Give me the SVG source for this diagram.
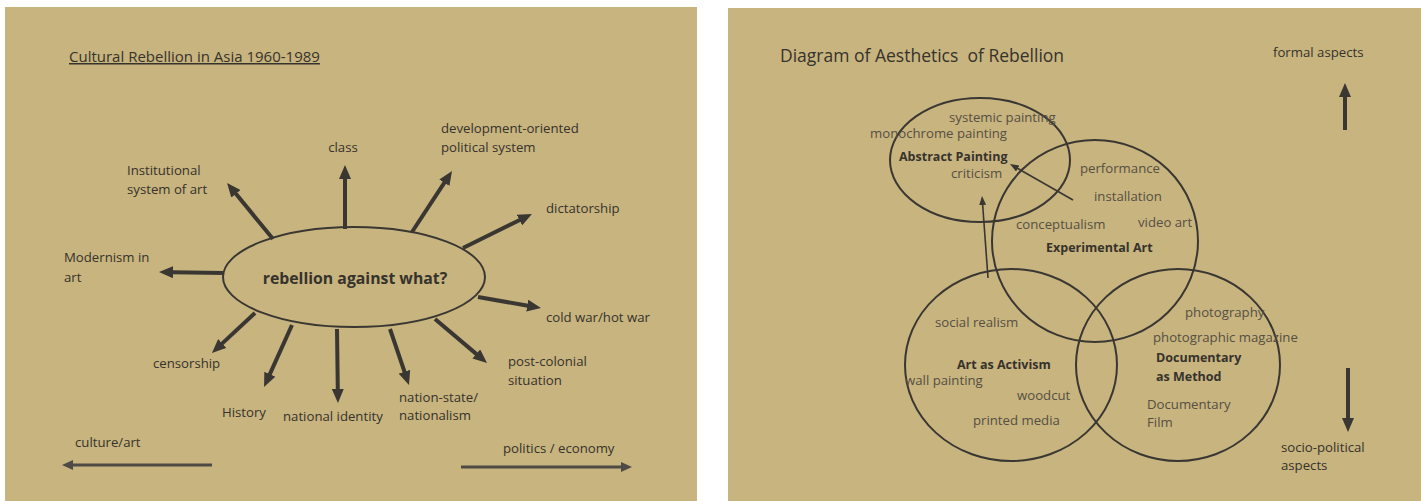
<svg xmlns="http://www.w3.org/2000/svg" width="1421" height="501" viewBox="0 0 1421 501">
<style>
text{font-family:"Open Sans","Liberation Sans",sans-serif;fill:#36322c;font-size:13.2px}
.t{font-size:15px;text-decoration:underline}
.t2{font-size:17.5px;white-space:pre}
.b{font-weight:bold;font-size:12.5px}
.lt{fill:#564f43}
.thick{stroke:#3a3733;stroke-width:4;fill:none}
.mid{stroke:#4e4b46;stroke-width:3;fill:none}
.thin{stroke:#3a3733;stroke-width:1.6;fill:none}
.sh{stroke:#3a3733;stroke-width:2;fill:none}
</style>
<defs>
<marker id="ah" viewBox="0 0 14 12" markerWidth="14" markerHeight="12" refX="1" refY="6" orient="auto" markerUnits="userSpaceOnUse"><path d="M0,0 L14,6 L0,12 z" fill="#3a3733"/></marker>
<marker id="ah2" viewBox="0 0 11 10" markerWidth="11" markerHeight="10" refX="1" refY="5" orient="auto" markerUnits="userSpaceOnUse"><path d="M0,0 L11,5 L0,10 z" fill="#4e4b46"/></marker>
<marker id="ah3" viewBox="0 0 9 7" markerWidth="9" markerHeight="7" refX="1" refY="3.5" orient="auto" markerUnits="userSpaceOnUse"><path d="M0,0 L9,3.5 L0,7 z" fill="#3a3733"/></marker>
</defs>
<rect x="0" y="0" width="1421" height="501" fill="#ffffff"/>
<rect x="5" y="7" width="692" height="494" fill="#c8b47e"/>
<rect x="728" y="8" width="693" height="493" fill="#c8b47e"/>

<g id="left-title"><text class="t" x="69" y="62">Cultural Rebellion in Asia 1960-1989</text></g>
<g id="center"><ellipse cx="354" cy="277" rx="131" ry="50" class="sh"/><text class="b" x="355" y="284" text-anchor="middle" style="font-size:15.8px">rebellion against what?</text></g>

<g id="connectors-left">
<line class="thick" x1="273" y1="239" x2="235.3" y2="193" marker-end="url(#ah)"/>
<line class="thick" x1="345" y1="229" x2="345" y2="178" marker-end="url(#ah)"/>
<line class="thick" x1="412" y1="232" x2="444.9" y2="181.9" marker-end="url(#ah)"/>
<line class="thick" x1="463" y1="248" x2="520.3" y2="219.7" marker-end="url(#ah)"/>
<line class="thick" x1="224" y1="273" x2="172" y2="272.2" marker-end="url(#ah)"/>
<line class="thick" x1="478" y1="297" x2="528.2" y2="305.8" marker-end="url(#ah)"/>
<line class="thick" x1="435" y1="319" x2="477.1" y2="354.6" marker-end="url(#ah)"/>
<line class="thick" x1="255" y1="313" x2="221.5" y2="344.1" marker-end="url(#ah)"/>
<line class="thick" x1="292" y1="325" x2="269.4" y2="375.1" marker-end="url(#ah)"/>
<line class="thick" x1="337" y1="329" x2="337.8" y2="390" marker-end="url(#ah)"/>
<line class="thick" x1="390" y1="329" x2="404.8" y2="372.7" marker-end="url(#ah)"/>
<line class="mid" x1="212" y1="465" x2="72" y2="465" marker-end="url(#ah2)"/>
<line class="mid" x1="461" y1="467" x2="622" y2="467" marker-end="url(#ah2)"/>
</g>

<g id="n-inst"><text x="127" y="175">Institutional</text><text x="127" y="194">system of art</text></g>
<g id="n-class"><text x="343" y="152" text-anchor="middle">class</text></g>
<g id="n-dev"><text x="441" y="133">development-oriented</text><text x="441" y="152">political system</text></g>
<g id="n-dict"><text x="546" y="213">dictatorship</text></g>
<g id="n-mod"><text x="64" y="262">Modernism in</text><text x="64" y="282">art</text></g>
<g id="n-cold"><text x="546" y="322">cold war/hot war</text></g>
<g id="n-post"><text x="508" y="366">post-colonial</text><text x="508" y="385">situation</text></g>
<g id="n-cens"><text x="153" y="368">censorship</text></g>
<g id="n-hist"><text x="222" y="417">History</text></g>
<g id="n-natid"><text x="283" y="421">national identity</text></g>
<g id="n-nation"><text x="399" y="402">nation-state/</text><text x="399" y="420">nationalism</text></g>
<g id="n-culture"><text x="75" y="447">culture/art</text></g>
<g id="n-politics"><text x="503" y="453">politics / economy</text></g>

<g id="right-title"><text class="t2" x="780" y="62" xml:space="preserve">Diagram of Aesthetics  of Rebellion</text></g>
<g id="n-formal"><text x="1273" y="57">formal aspects</text></g>
<g id="n-socio"><text x="1281" y="452">socio-political</text><text x="1281" y="470">aspects</text></g>

<g id="abstract"><ellipse cx="980" cy="160" rx="90" ry="62" class="sh"/>
<text class="lt" x="949" y="122">systemic painting</text>
<text class="lt" x="870" y="138">monochrome painting</text>
<text class="b" x="899" y="161">Abstract Painting</text>
<text class="lt" x="951" y="178">criticism</text></g>

<g id="experimental"><ellipse cx="1095" cy="241" rx="103" ry="101" class="sh"/>
<text class="lt" x="1080" y="173">performance</text>
<text class="lt" x="1094" y="201">installation</text>
<text class="lt" x="1138" y="227">video art</text>
<text class="lt" x="1016" y="229">conceptualism</text>
<text class="b" x="1046" y="252">Experimental Art</text></g>

<g id="activism"><ellipse cx="1011" cy="365" rx="106" ry="96" class="sh"/>
<text class="lt" x="935" y="327">social realism</text>
<text class="b" x="957" y="369">Art as Activism</text>
<text class="lt" x="905" y="385">wall painting</text>
<text class="lt" x="1017" y="400">woodcut</text>
<text class="lt" x="973" y="425">printed media</text></g>

<g id="documentary"><ellipse cx="1178" cy="365" rx="102" ry="96" class="sh"/>
<text class="lt" x="1185" y="317">photography</text>
<text class="lt" x="1153" y="342">photographic magazine</text>
<text class="b" x="1156" y="362">Documentary</text>
<text class="b" x="1156" y="381">as Method</text>
<text class="lt" x="1147" y="409">Documentary</text>
<text class="lt" x="1147" y="427">Film</text></g>

<g id="connectors-right">
<line class="thin" x1="1073" y1="200" x2="1016.9" y2="168" marker-end="url(#ah3)"/>
<line class="thin" x1="988" y1="278" x2="982.6" y2="204" marker-end="url(#ah3)"/>
<line class="thick" stroke-width="3.5" x1="1345" y1="130" x2="1345" y2="96" marker-end="url(#ah)"/>
<line class="thick" stroke-width="3.5" x1="1348" y1="368" x2="1348" y2="419" marker-end="url(#ah)"/>
</g>
</svg>
